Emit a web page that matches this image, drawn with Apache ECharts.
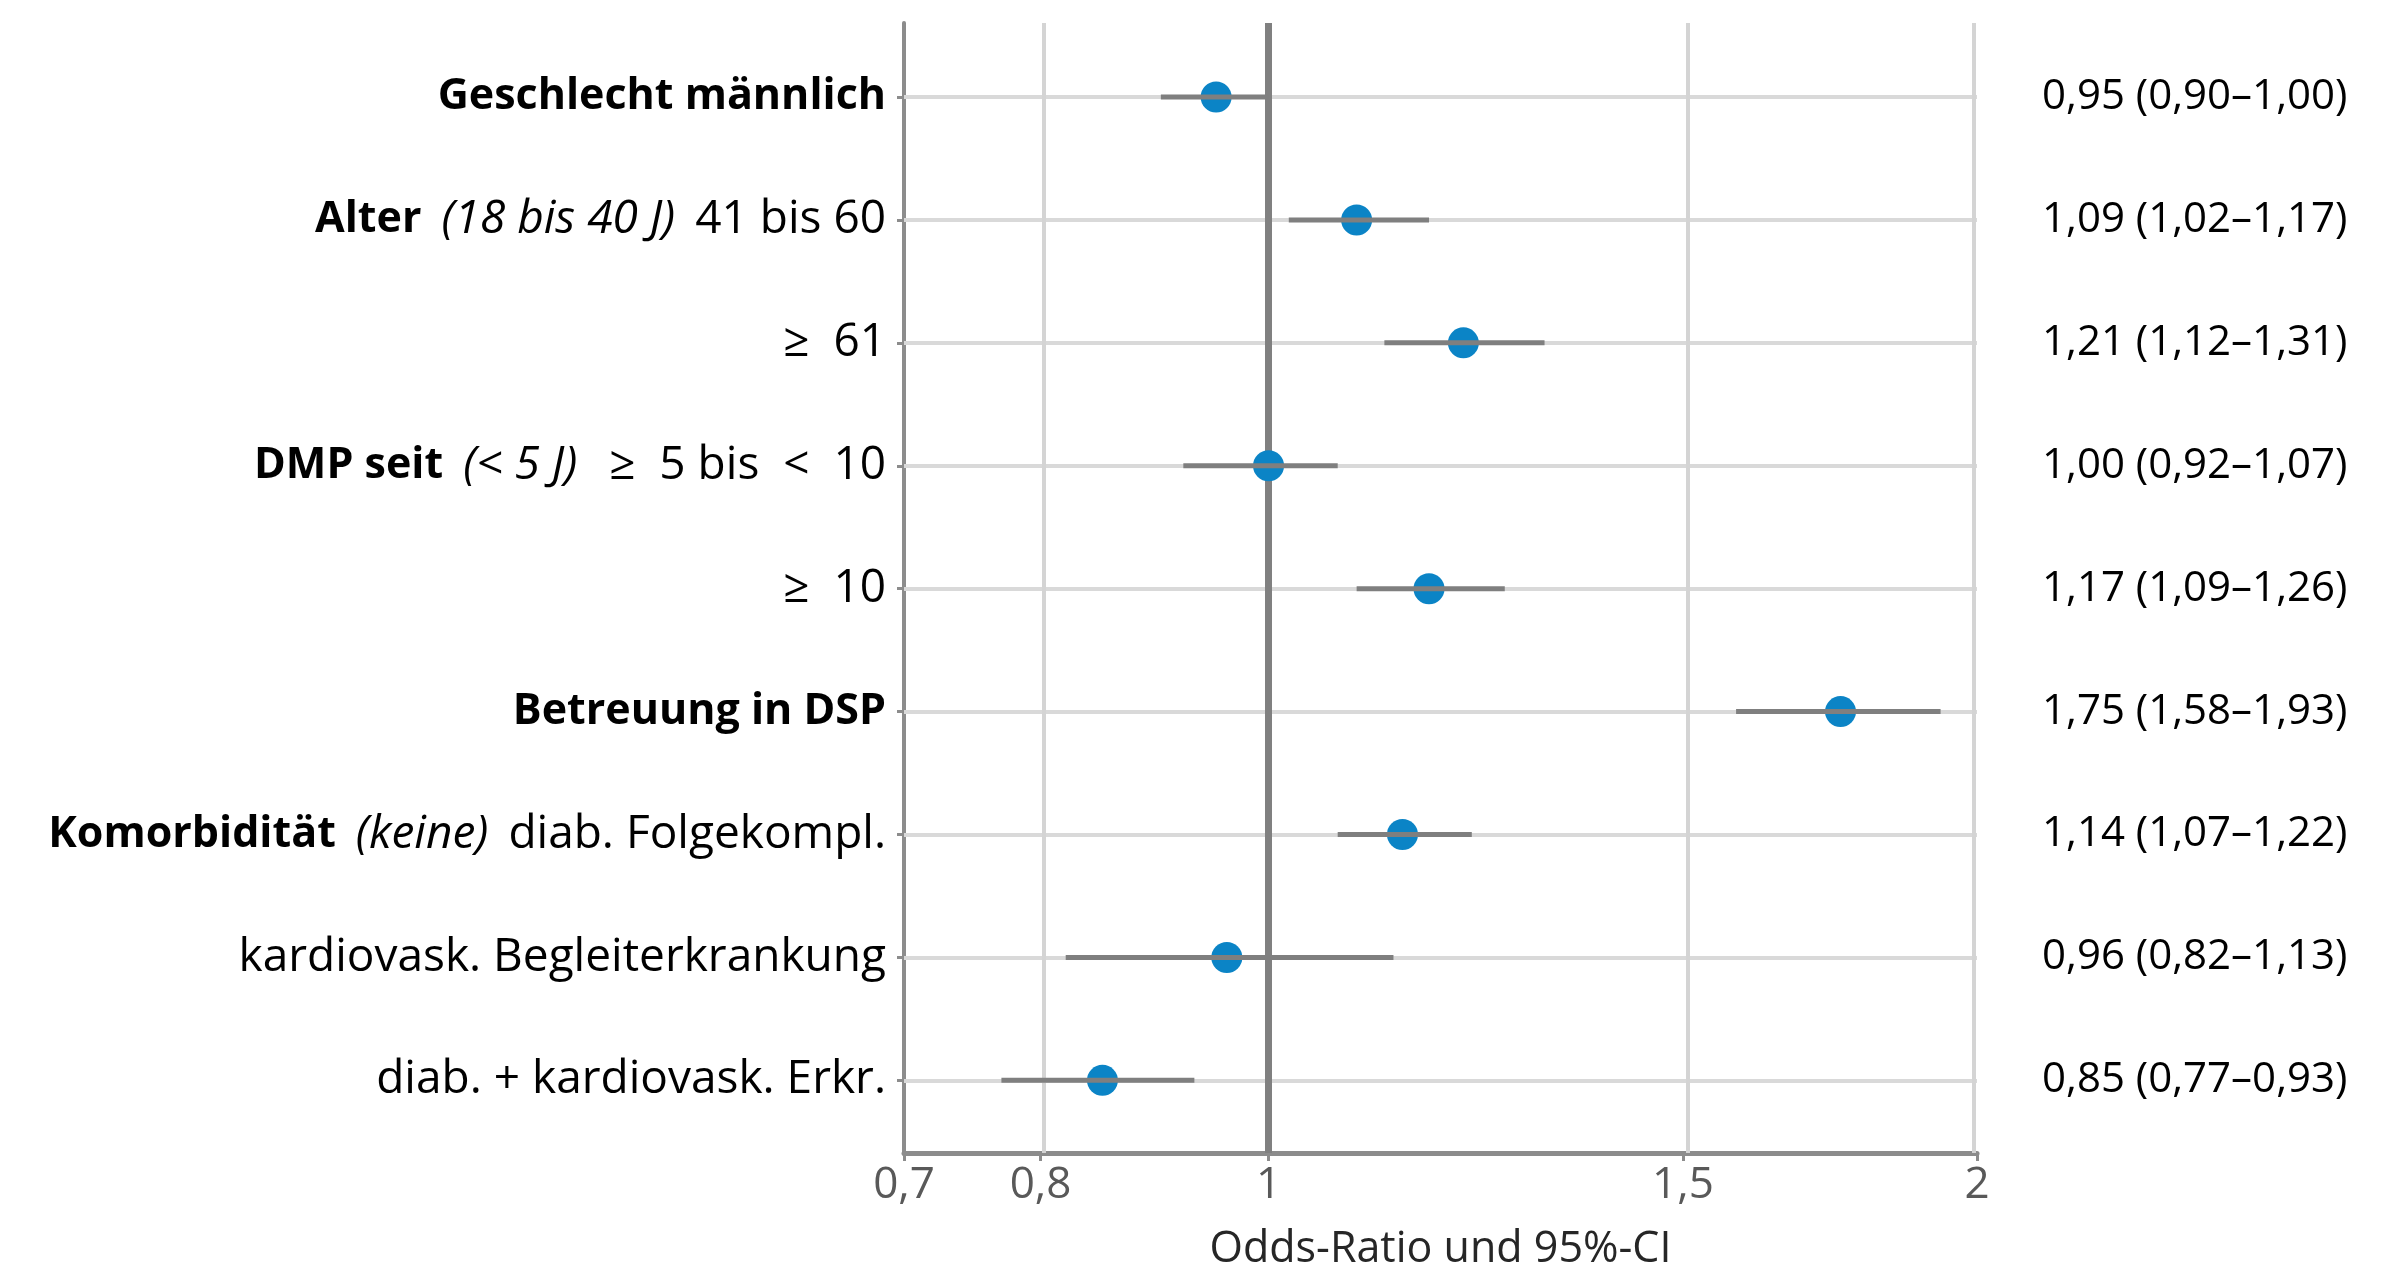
<!DOCTYPE html>
<html><head><meta charset="utf-8">
<script src="https://cdn.jsdelivr.net/npm/echarts@6/dist/echarts.min.js"></script>
<style>html,body{margin:0;padding:0;background:#fff}#c{width:2394px;height:1276px}</style>
</head><body><div id="c"></div>
<script>
// ---- data ----
const varLabel   = ['Geschlecht männlich', 'Alter', '', 'DMP seit', '', 'Betreuung in DSP', 'Komorbidität', '', ''];
const refLabel   = ['', '(18 bis 40 J)', '', '(< 5 J)', '', '', '(keine)', '', ''];
const levelLabel = ['', '41 bis 60', '≥  61', ' ≥  5 bis  <  10', '≥  10', '', 'diab. Folgekompl.', 'kardiovask. Begleiterkrankung', 'diab. + kardiovask. Erkr.'];
const oddsRatio  = [0.95, 1.09, 1.21, 1.00, 1.17, 1.75, 1.14, 0.96, 0.85];
const ciLow      = [0.90, 1.02, 1.12, 0.92, 1.09, 1.58, 1.07, 0.82, 0.77];
const ciHigh     = [1.00, 1.17, 1.31, 1.07, 1.26, 1.93, 1.22, 1.13, 0.93];
const xTicks     = [0.7, 0.8, 1, 1.5, 2];
const xGridVals  = [0.8, 1.5, 2];
const refValue   = 1;
const xName      = 'Odds-Ratio und 95%-CI';

// ---- helpers ----
const FONT = '"Open Sans", "Noto Sans", sans-serif';
const ln = Math.log;
const rows = oddsRatio.map((_, i) => i);
const fmt2 = v => v.toFixed(2).replace('.', ',');
const ciText = oddsRatio.map((v, i) => fmt2(v) + ' (' + fmt2(ciLow[i]) + '–' + fmt2(ciHigh[i]) + ')');

function leftLabel(v) {
  const i = Math.round(v);
  const parts = [];
  if (varLabel[i]) parts.push('{b|' + varLabel[i] + '}');
  if (refLabel[i]) parts.push('{i|' + refLabel[i] + '}');
  if (levelLabel[i]) parts.push('{r|' + levelLabel[i] + '}');
  return parts.join('{s| }');
}
function xLabel(v) {
  const x = Math.round(Math.exp(v) * 100) / 100;
  return String(x).replace('.', ',');
}

const yMin = -0.602, yMax = 8.591;
const BOLD = 43, REG = 46;

const chart = echarts.init(document.getElementById('c'), null, {renderer: 'canvas'});
chart.setOption({
  backgroundColor: '#ffffff',
  animation: false,
  grid: {left: 904, right: 417, top: 23, bottom: 117, containLabel: false},
  xAxis: {
    type: 'value',
    min: ln(xTicks[0]),
    max: ln(xTicks[xTicks.length - 1]),
    name: xName,
    nameLocation: 'middle',
    nameGap: 75,
    nameTextStyle: {fontFamily: FONT, fontSize: 43, color: '#262626'},
    axisLine: {show: true, onZero: false, lineStyle: {color: '#8c8c8c', width: 5}},
    axisTick: {show: true, customValues: xTicks.map(ln), length: 8, lineStyle: {color: '#8c8c8c', width: 3}},
    axisLabel: {customValues: xTicks.map(ln), formatter: xLabel, fontFamily: FONT, fontSize: 44, color: '#595959', margin: 10},
    splitLine: {show: false}
  },
  yAxis: [{
    type: 'value',
    inverse: true,
    min: yMin, max: yMax,
    axisLine: {show: true, onZero: false, lineStyle: {color: '#8c8c8c', width: 4}},
    axisTick: {show: true, customValues: rows, length: 7, lineStyle: {color: '#8c8c8c', width: 3}},
    axisLabel: {
      customValues: rows, formatter: leftLabel, margin: 18,
      rich: {
        b: {fontFamily: FONT, fontSize: BOLD, fontWeight: 'bold', color: '#000'},
        i: {fontFamily: FONT, fontSize: REG, fontStyle: 'italic', color: '#000'},
        r: {fontFamily: FONT, fontSize: REG, color: '#000'},
        s: {fontFamily: FONT, fontSize: REG, width: 20, color: '#000'}
      }
    },
    splitLine: {show: false}
  }, {
    type: 'value',
    inverse: true,
    position: 'right',
    min: yMin, max: yMax,
    axisLine: {show: false, onZero: false},
    axisTick: {show: false, customValues: rows},
    axisLabel: {customValues: rows, formatter: v => ciText[Math.round(v)], margin: 65,
      fontFamily: FONT, fontSize: 42, color: '#000'},
    splitLine: {show: false}
  }],
  series: [{
    type: 'scatter',
    z: 3,
    symbol: 'circle',
    symbolSize: 31,
    itemStyle: {color: '#0b84c6', opacity: 1},
    emphasis: {disabled: true},
    data: rows.map(i => [ln(oddsRatio[i]), i]),
    markLine: {
      z: 1,
      silent: true,
      symbol: 'none',
      label: {show: false},
      animation: false,
      data: rows.map(i => ({yAxis: i, lineStyle: {color: '#d9d9d9', width: 4, type: 'solid'}}))
        .concat(xGridVals.map(v => ({xAxis: ln(v), lineStyle: {color: '#d4d4d4', width: 4, type: 'solid'}})))
        .concat([{xAxis: ln(refValue), lineStyle: {color: '#808080', width: 7, type: 'solid'}}])
    }
  }, {
    type: 'custom',
    z: 4,
    data: rows.map(i => [ln(ciLow[i]), ln(ciHigh[i]), i]),
    encode: {x: [0, 1], y: 2},
    renderItem: function (params, api) {
      const p1 = api.coord([api.value(0), api.value(2)]);
      const p2 = api.coord([api.value(1), api.value(2)]);
      return {type: 'line', shape: {x1: p1[0], y1: p1[1], x2: p2[0], y2: p2[1]},
        style: {stroke: '#7f7f7f', lineWidth: 5}};
    }
  }]
});
</script></body></html>
